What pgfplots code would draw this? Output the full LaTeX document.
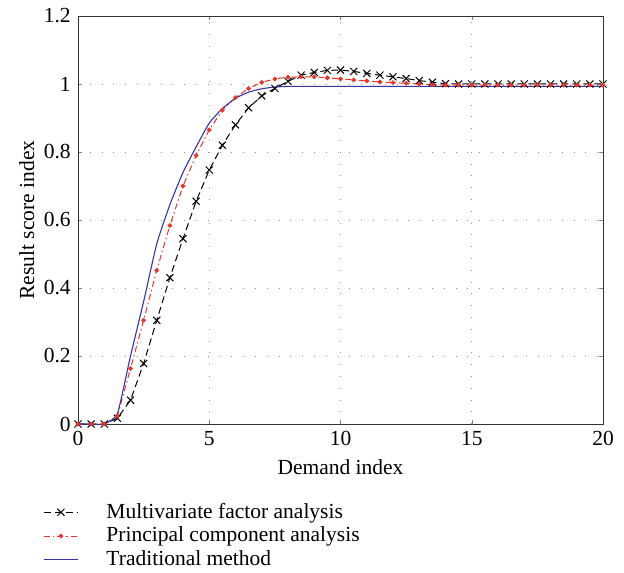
\documentclass[border=0pt]{standalone}
\usepackage{pgfplots}
\pgfplotsset{compat=1.18}
\usepackage{fontspec}
\setmainfont{Liberation Serif}
\definecolor{myred}{HTML}{E8352A}
\definecolor{myblue}{HTML}{3535A8}
\begin{document}
\fontsize{21.5pt}{25pt}\selectfont
\begin{tikzpicture}
\begin{axis}[
  scale only axis, width=525pt, height=408pt,
  xmin=0, xmax=20, ymin=0, ymax=1.2,
  xtick={0,5,10,15,20}, ytick={0,0.2,0.4,0.6,0.8,1,1.2},
  yticklabels={0,0.2,0.4,0.6,0.8,1,1.2},
  /pgf/number format/assume math mode=true,
  ticklabel style={font=\fontsize{21.5pt}{25pt}\selectfont},
  label style={font=\fontsize{21.5pt}{25pt}\selectfont},
  tick align=inside, major tick length=4pt,
  xtick pos=both, ytick pos=both,
  grid=major,
  major grid style={gray!80, line width=0.8pt, dash pattern=on 0.8pt off 11pt},
  axis line style={line width=0.9pt, black!80},
  xlabel={Demand index}, ylabel={Result score index},
  xlabel style={yshift=1pt},
  ylabel style={yshift=-5pt},
  legend style={at={(axis description cs:-0.072,-0.186)}, anchor=north west,
    draw=none, fill=none, font=\fontsize{21.5pt}{25pt}\selectfont,
    row sep=3.5pt, nodes={inner sep=1pt},
    /tikz/every odd column/.append style={column sep=27pt}},
  legend cell align=left,
  legend image code/.code={\draw[mark repeat=2,mark phase=2,#1] plot coordinates {(0pt,0pt)(17pt,0pt)(34pt,0pt)};},
]
\addplot[black, line width=1pt, dash pattern=on 7pt off 4pt, mark=x, mark size=5pt, mark options={solid, line width=1pt}] coordinates {
(0,0)(0.5,0)(1,0)(1.5,0.017)(2,0.07)(2.5,0.178)(3,0.305)(3.5,0.43)(4,0.545)(4.5,0.655)
(5,0.747)(5.5,0.82)(6,0.88)(6.5,0.93)(7,0.965)(7.5,0.987)(8,1.008)(8.5,1.026)(9,1.034)(9.5,1.04)
(10,1.041)(10.5,1.037)(11,1.031)(11.5,1.026)(12,1.021)(12.5,1.016)(13,1.01)(13.5,1.005)(14,1.001)(14.5,1.0)
(15,1.0)(15.5,1.0)(16,1.0)(16.5,1.0)(17,1.0)(17.5,1.0)(18,1.0)(18.5,1.0)(19,1.0)(19.5,1.0)(20,1.0)};
\addlegendentry{Multivariate factor analysis}
\addplot[myred, line width=1pt, dash pattern=on 6pt off 3pt on 1.5pt off 3pt, mark=*, mark size=1.8pt, mark options={solid}] coordinates {
(0,0)(0.5,0)(1,0)(1.5,0.023)(2,0.163)(2.5,0.305)(3,0.452)(3.5,0.584)(4,0.70)(4.5,0.79)
(5,0.865)(5.5,0.923)(6,0.96)(6.5,0.987)(7,1.005)(7.5,1.015)(8,1.02)(8.5,1.021)(9,1.021)(9.5,1.018)
(10,1.015)(10.5,1.012)(11,1.009)(11.5,1.006)(12,1.004)(12.5,1.002)(13,1.0)(13.5,0.998)(14,0.997)(14.5,0.997)
(15,0.997)(15.5,0.997)(16,0.997)(16.5,0.997)(17,0.997)(17.5,0.997)(18,0.997)(18.5,0.997)(19,0.997)(19.5,0.997)(20,0.997)};
\addlegendentry{Principal component analysis}
\addplot[myblue, line width=1.1pt, smooth, tension=0.3] coordinates {
(0,0)(0.5,0)(1,0)(1.5,0.03)(2,0.2)(2.5,0.36)(3,0.53)(3.5,0.645)(4,0.74)(4.5,0.815)
(5,0.885)(5.5,0.928)(6,0.958)(6.5,0.976)(7,0.986)(7.5,0.991)(8,0.993)(9,0.993)(10,0.993)(12,0.993)
(14,0.993)(16,0.993)(18,0.993)(20,0.993)};
\addlegendentry{Traditional method}
\end{axis}
\pgfresetboundingbox
\useasboundingbox (-78pt,-149pt) rectangle (546pt,424pt);
\end{tikzpicture}
\end{document}
